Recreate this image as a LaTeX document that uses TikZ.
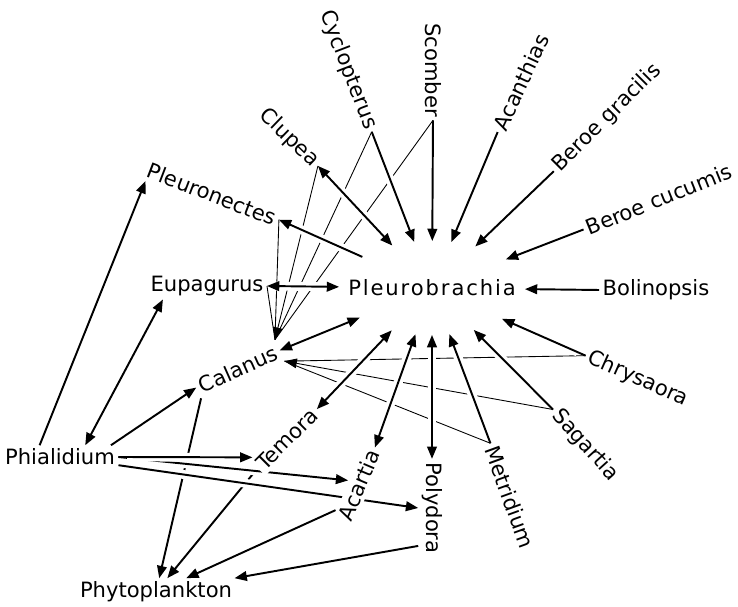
\documentclass[tikz,border=0pt]{standalone}
\usepackage{fontspec}
\setmainfont{DejaVu Sans}
\usetikzlibrary{arrows.meta,shapes.geometric,backgrounds}

\begin{document}
\begin{tikzpicture}[x=0.02cm, y=-0.02cm, line width=1.1pt,
    >={Triangle[length=7pt,width=5.5pt]},
    taxon/.style={font=\fontsize{12}{14}\selectfont, inner sep=1.5pt, fill=white},
    wide/.style={font=\fontsize{12}{14}\selectfont\addfontfeatures{LetterSpace=9}},
    hub/.style={ellipse, minimum width=3.68cm, minimum height=1.84cm, inner sep=0pt},
    feed/.style={line width=1.1pt, ->, preaction={draw=white, line width=5pt, -, shorten <=5pt, shorten >=5pt}},
    mutual/.style={feed, <->},
    faint/.style={line width=0.5pt}]
  \useasboundingbox (0,0) rectangle (738,607);

  % centre of the web
  \node[taxon, wide] (pleuro) at (432,288) {Pleurobrachia};
  \node[hub] (ring) at (pleuro) {};

  % round the top
  \node[taxon, rotate=-21] (pleuronectes) at (212,194) {Pleuronectes};
  \node[taxon, rotate=-44] (clupea) at (289,138) {Clupea};
  \node[taxon, rotate=-69] (cyclopterus) at (348,70) {Cyclopterus};
  \node[taxon, rotate=-90] (scomber) at (433,70) {Scomber};
  \node[taxon, rotate=65] (acanthias) at (521,82) {Acanthias};
  \node[taxon, rotate=45] (gracilis) at (607,118) {Beroe gracilis};
  \node[taxon, rotate=22] (cucumis) at (659,199) {Beroe cucumis};
  \node[taxon] (bolinopsis) at (656,290) {Bolinopsis};

  % round the bottom
  \node[taxon, rotate=-24] (chrysaora) at (638,379) {Chrysaora};
  \node[taxon, rotate=-48] (sagartia) at (585,445) {Sagartia};
  \node[taxon, rotate=-70] (metridium) at (510,497) {Metridium};
  \node[taxon, rotate=-90] (polydora) at (432,508) {Polydora};
  \node[taxon, rotate=67] (acartia) at (359,485) {Acartia};
  \node[taxon, rotate=45] (temora) at (287,439) {Temora};
  \node[taxon, rotate=24] (calanus) at (238,369) {Calanus};
  \node[taxon] (eupagurus) at (207,286) {Eupagurus};
  \node[taxon] (phialidium) at (60,457) {Phialidium};
  \node[taxon] (phytoplankton) at (156,592) {Phytoplankton};

  \begin{pgfonlayer}{background}
    % thin links into Calanus
    \draw[faint] (eupagurus.east) -- (calanus.north east);
    \draw[faint] (pleuronectes.east) -- (calanus.north east);
    \draw[faint, ->] (clupea.east) -- (calanus.north east);
    \draw[faint] (cyclopterus.east) -- (calanus.north east);
    \draw[faint] (scomber.east) -- (calanus.north east);
    \draw[faint] (chrysaora.west) -- (calanus.south east);
    \draw[faint, ->] (sagartia.west) -- (calanus.south east);
    \draw[faint] (metridium.west) -- (calanus.south east);

    % down to the plankton
    \draw[feed] (calanus.south west) -- (phytoplankton);
    \draw[feed] (temora.west) -- (phytoplankton);
    \draw[feed] (acartia.160) -- (phytoplankton);
    \draw[feed] (polydora.-20) -- (phytoplankton);

    % into Pleurobrachia
    \draw[mutual] (clupea.east) -- (ring);
    \draw[feed] (cyclopterus.east) -- (ring);
    \draw[feed] (scomber.east) -- (ring);
    \draw[feed] (acanthias.west) -- (ring);
    \draw[feed] (gracilis.west) -- (ring);
    \draw[feed] (cucumis.west) -- (ring);
    \draw[feed] (bolinopsis.west) -- (ring);
    \draw[feed] (chrysaora.west) -- (ring);
    \draw[feed] (sagartia.west) -- (ring);
    \draw[feed] (metridium.west) -- (ring);
    \draw[mutual] (polydora.west) -- (ring);
    \draw[mutual] (acartia.east) -- (ring);
    \draw[mutual] (temora.east) -- (ring);
    \draw[mutual] (calanus.east) -- (ring);
    \draw[mutual] (eupagurus.east) -- (ring);
    \draw[feed] (ring) -- (pleuronectes.east);

    % out of Phialidium
    \draw[feed] (phialidium.east) -- (acartia.north);
    \draw[feed] (phialidium.-8) -- (polydora.south);
    \draw[feed] (phialidium.east) -- (temora.163);
    \draw[feed] (phialidium.13) -- (calanus.west);
    \draw[mutual] (phialidium.25) -- (eupagurus.197);
    \draw[feed] (phialidium.150) -- (pleuronectes.190);
  \end{pgfonlayer}
\end{tikzpicture}
\end{document}
